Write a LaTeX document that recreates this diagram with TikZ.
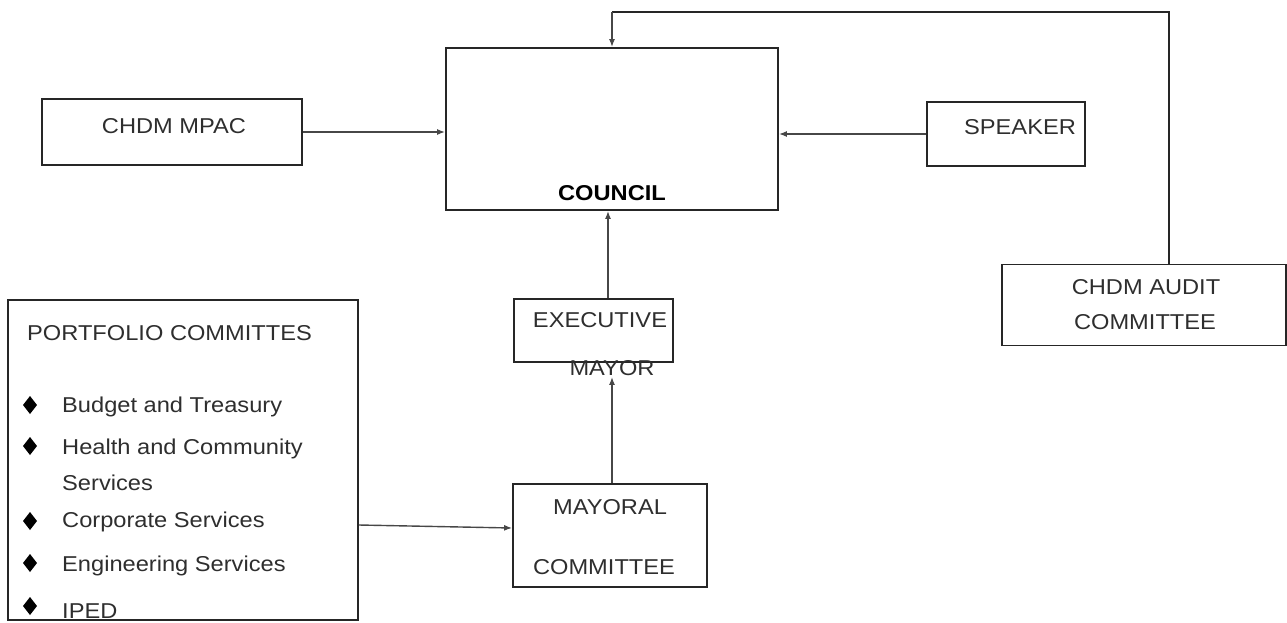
\documentclass[tikz,border=0pt]{standalone}
\usepackage{fontspec}
\setmainfont{Liberation Sans}[FakeStretch=1.1]
\usetikzlibrary{arrows.meta}
\begin{document}
\begin{tikzpicture}[x=1pt,y=-1pt,
  box/.style={draw=black!85,line width=1.8pt,minimum width=#1,inner sep=0pt},
  lbl/.style={inner sep=0pt,font=\fontsize{21.5}{25}\selectfont,text=black!82},
  link/.style={draw=black!72,line width=1.4pt,-{Latex[length=8pt,width=6pt]}},
  feed/.style={draw=black!85,line width=2.8pt},
  bulletmark/.pic={\fill (-7,0)--(0,-9)--(7,0)--(0,9)--cycle;}]
\useasboundingbox (0,0) rectangle (1287,622);

% boxes
\node[box=332pt,minimum height=162pt] (council) at (612,129) {};
\node[box=260pt,minimum height=66pt] (mpac) at (172,132) {};
\node[box=158pt,minimum height=64pt] (speaker) at (1006,134) {};
\node[box=284pt,minimum height=81pt] (audit) at (1144,305) {};
\node[box=159pt,minimum height=63pt] (exec) at (593.5,330.5) {};
\node[box=194pt,minimum height=103pt] (mayoral) at (610,535.5) {};
\node[box=350pt,minimum height=320pt] (portfolio) at (183,460) {};

% labels
\node[lbl,font=\fontsize{21.5}{25}\selectfont\bfseries,text=black] (councilT) at (612,193) {COUNCIL};
\node[lbl] (mpacT) at (174,126) {CHDM MPAC};
\node[lbl] (speakerT) at (1020,127) {SPEAKER};
\node[lbl] (auditT1) at (1146,287) {CHDM AUDIT};
\node[lbl] (auditT2) at (1145,322) {COMMITTEE};
\node[lbl] (execT1) at (600,320) {EXECUTIVE};
\node[lbl] (execT2) at (612,368) {MAYOR};
\node[lbl] (mayT1) at (610,507) {MAYORAL};
\node[lbl] (mayT2) at (604,567) {COMMITTEE};

\node[lbl,anchor=west] (pfT) at (27,333) {PORTFOLIO COMMITTES};
\foreach \yy/\nm/\txt in {407/pa/Budget and Treasury,449/pb/Health and Community,483/pc/Services,522/pd/Corporate Services,566/pe/Engineering Services,611/pf/IPED}
  \node[lbl,anchor=west] (\nm) at (62,\yy) {\txt};
\foreach \yy in {405,446,521,563,606}
  \pic at (30,\yy) {bulletmark};

% connectors
\draw[link] (mpac.east) -- (mpac.east -| council.west);
\draw[link] (speaker.west) -- (speaker.west -| council.east);
\draw[link] ([xshift=14.5pt]exec.north) -- ([xshift=14.5pt]exec.north |- council.south);
\draw[link,shorten >=14pt] ([xshift=2pt]mayoral.north) -- ([xshift=2pt]mayoral.north |- exec.south);
\draw[link] ([yshift=-65pt]portfolio.east) -- ([yshift=7.5pt]mayoral.west);
\coordinate (ridge) at (0,12);
\draw[feed] ([xshift=25pt]audit.north) |- (ridge -| council.north);
\draw[link] (ridge -| council.north) -- (council.north);
\end{tikzpicture}
\end{document}
